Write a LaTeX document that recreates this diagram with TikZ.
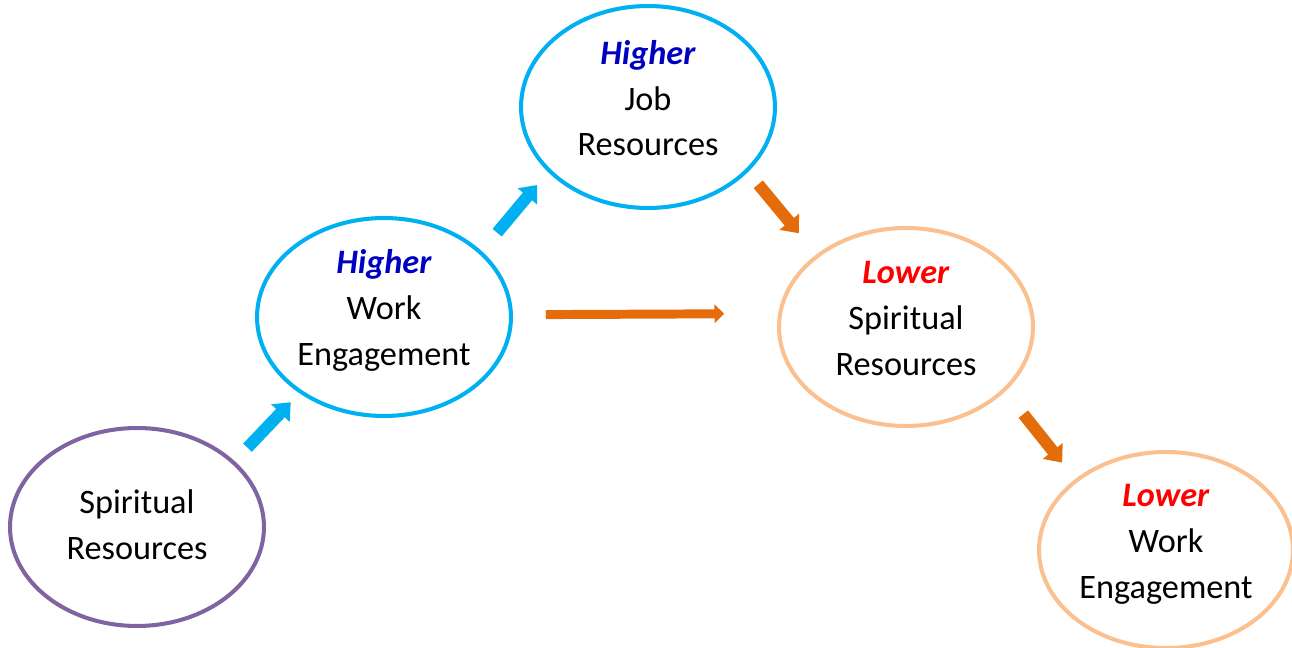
\documentclass[tikz,border=0pt]{standalone}
\usepackage{fontspec}
\setmainfont{Carlito}
\usepackage{xcolor}
\usetikzlibrary{shapes.geometric,arrows.meta}

\definecolor{sky}{HTML}{00B0F0}
\definecolor{rust}{HTML}{E46C0A}
\definecolor{peach}{HTML}{FAC090}
\definecolor{grape}{HTML}{8064A2}
\definecolor{hiblue}{HTML}{0000C0}
\definecolor{lored}{HTML}{FF0000}

\newcommand{\hiword}[1]{\textcolor{hiblue}{\textbf{\textit{#1}}}}
\newcommand{\loword}[1]{\textcolor{lored}{\textbf{\textit{#1}}}}
\newcommand{\lift}[1]{\rule[-#1]{0pt}{0pt}}

\tikzset{
  res/.style={ellipse, draw, line width=2.3pt, minimum width=5.08cm, minimum height=3.96cm,
    inner sep=0pt, align=center, font=\fontsize{19.5}{26}\selectfont},
  fat/.style={line width=6.8pt, -{Triangle[width=14pt,length=8.5pt]}},
  flat/.style={line width=5.1pt, -{Triangle[width=10.5pt,length=5.5pt]}}
}

\begin{document}
\begin{tikzpicture}[x=0.02cm, y=-0.02cm]
\useasboundingbox (0,0) rectangle (1292,648);

\node[res, draw=grape] (sr) at (137,527) {Spiritual\\Resources\lift{3pt}};
\node[res, draw=sky] (hwe) at (384,317) {\hiword{Higher}\\Work\\Engagement\lift{11pt}};
\node[res, draw=sky, minimum height=4.04cm] (hjr) at (648,107) {\hiword{Higher}\\Job\\Resources\lift{10pt}};
\node[res, draw=peach] (lsr) at (906,327) {\loword{Lower}\\Spiritual\\Resources\lift{10pt}};
\node[res, draw=peach, minimum height=3.92cm] (lwe) at (1166,550) {\loword{Lower}\\Work\\Engagement\lift{10pt}};

\draw [fat, sky, shorten <=0.37cm, shorten >=0.25cm] (sr.34) -- (hwe.222);
\draw [fat, sky, shorten <=0.48cm, shorten >=0.34cm] (hwe.34) -- (hjr.213);
\draw [fat, rust, shorten <=0.32cm, shorten >=0.55cm] (hjr.327) -- (lsr.141);
\draw [fat, rust, shorten <=0.58cm, shorten >=0.42cm] (lsr.327) -- (lwe.142);
\draw [flat, rust, shorten <=0.66cm, shorten >=1.08cm] (hwe.1.45) -- (lsr.174);
\end{tikzpicture}
\end{document}
